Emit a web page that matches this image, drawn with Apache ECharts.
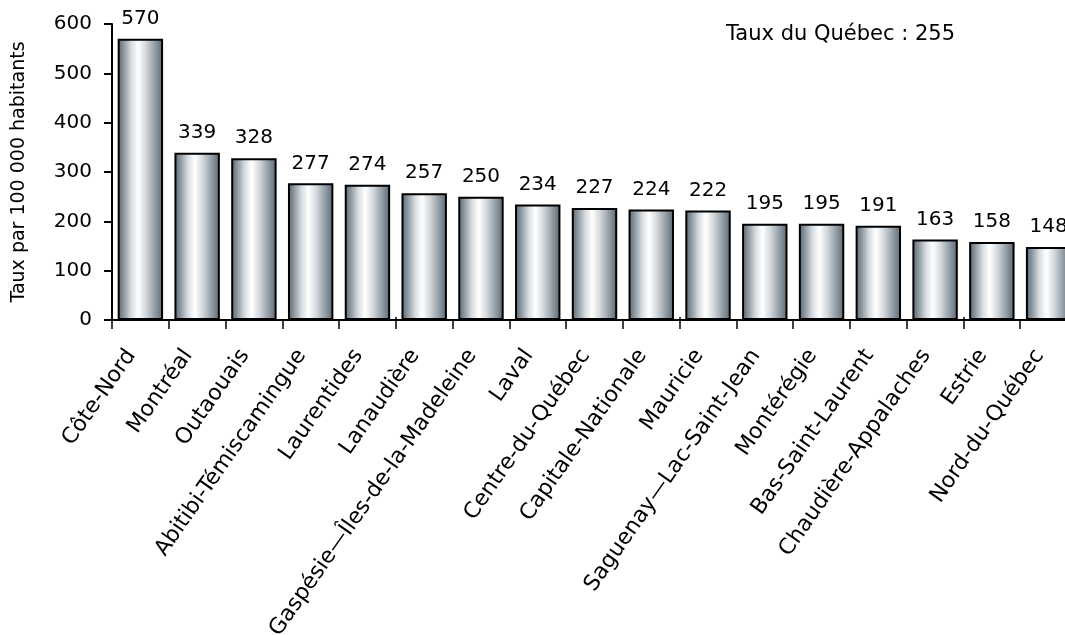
<!DOCTYPE html>
<html><head><meta charset="utf-8">
<script src="https://cdn.jsdelivr.net/npm/echarts@6/dist/echarts.min.js"></script>
<style>html,body{margin:0;padding:0;background:#fff;overflow:hidden}#c{width:1065px;height:635px}</style>
</head><body><div id="c"></div>
<script>
const regions = ["Côte-Nord","Montréal","Outaouais","Abitibi-Témiscamingue","Laurentides","Lanaudière","Gaspésie—Îles-de-la-Madeleine","Laval","Centre-du-Québec","Capitale-Nationale","Mauricie","Saguenay—Lac-Saint-Jean","Montérégie","Bas-Saint-Laurent","Chaudière-Appalaches","Estrie","Nord-du-Québec"];
const taux = [570,339,328,277,274,257,250,234,227,224,222,195,195,191,163,158,148];
const yTicks = [0,100,200,300,400,500,600];
const tauxQuebec = 255;
const axisTitle = "Taux par 100 000 habitants";

const FONT = "DejaVu Sans";
const chart = echarts.init(document.getElementById('c'));
const grad = new echarts.graphic.LinearGradient(0,0,1,0,[
  {offset:0,color:'#5a6670'},
  {offset:0.12,color:'#87929b'},
  {offset:0.3,color:'#d8dde1'},
  {offset:0.45,color:'#ffffff'},
  {offset:0.62,color:'#d4d9dd'},
  {offset:0.84,color:'#8c97a0'},
  {offset:1,color:'#5a6670'}
]);
const gridCfg = {left:112,right:-12,top:24,bottom:315,containLabel:false,outerBoundsMode:'none'};
chart.setOption({
  animation:false,
  textStyle:{fontFamily:FONT},
  grid:[gridCfg],
  title:{text:"Taux du Québec : " + tauxQuebec, left:721, top:19,
    textStyle:{fontFamily:FONT,fontSize:21,fontWeight:'normal',color:'#000'}},
  xAxis:[{type:'category',data:regions,
    axisLine:{lineStyle:{color:'#000',width:2}},
    axisTick:{show:true,length:9,lineStyle:{color:'#000',width:1.5}},
    axisLabel:{rotate:55,interval:0,fontSize:22,color:'#000',fontFamily:FONT,margin:38,
      align:'right',verticalAlign:'bottom'}},
   {type:'category',data:regions,position:'bottom',
    axisLine:{show:false},
    axisTick:{show:true,inside:true,length:3,lineStyle:{color:'#000',width:1.5}},
    axisLabel:{show:false}}],
  yAxis:{type:'value',min:0,max:600,interval:100,
    name:axisTitle,nameLocation:'middle',nameGap:83,
    nameTextStyle:{fontSize:19,color:'#000',fontFamily:FONT},
    axisLine:{show:true,lineStyle:{color:'#000',width:2}},
    axisTick:{show:true,length:8,lineStyle:{color:'#000',width:2}},
    splitLine:{show:false},
    axisLabel:{fontSize:20,color:'#000',fontFamily:FONT,margin:20,
      formatter:v=>yTicks.includes(v)?String(v):''}},
  series:[{type:'bar',data:taux,barCategoryGap:'20%',
    itemStyle:{color:grad,borderColor:'#000',borderWidth:2},
    label:{show:true,position:'top',distance:10,fontSize:20,color:'#000',fontFamily:FONT}}]
});
</script></body></html>
